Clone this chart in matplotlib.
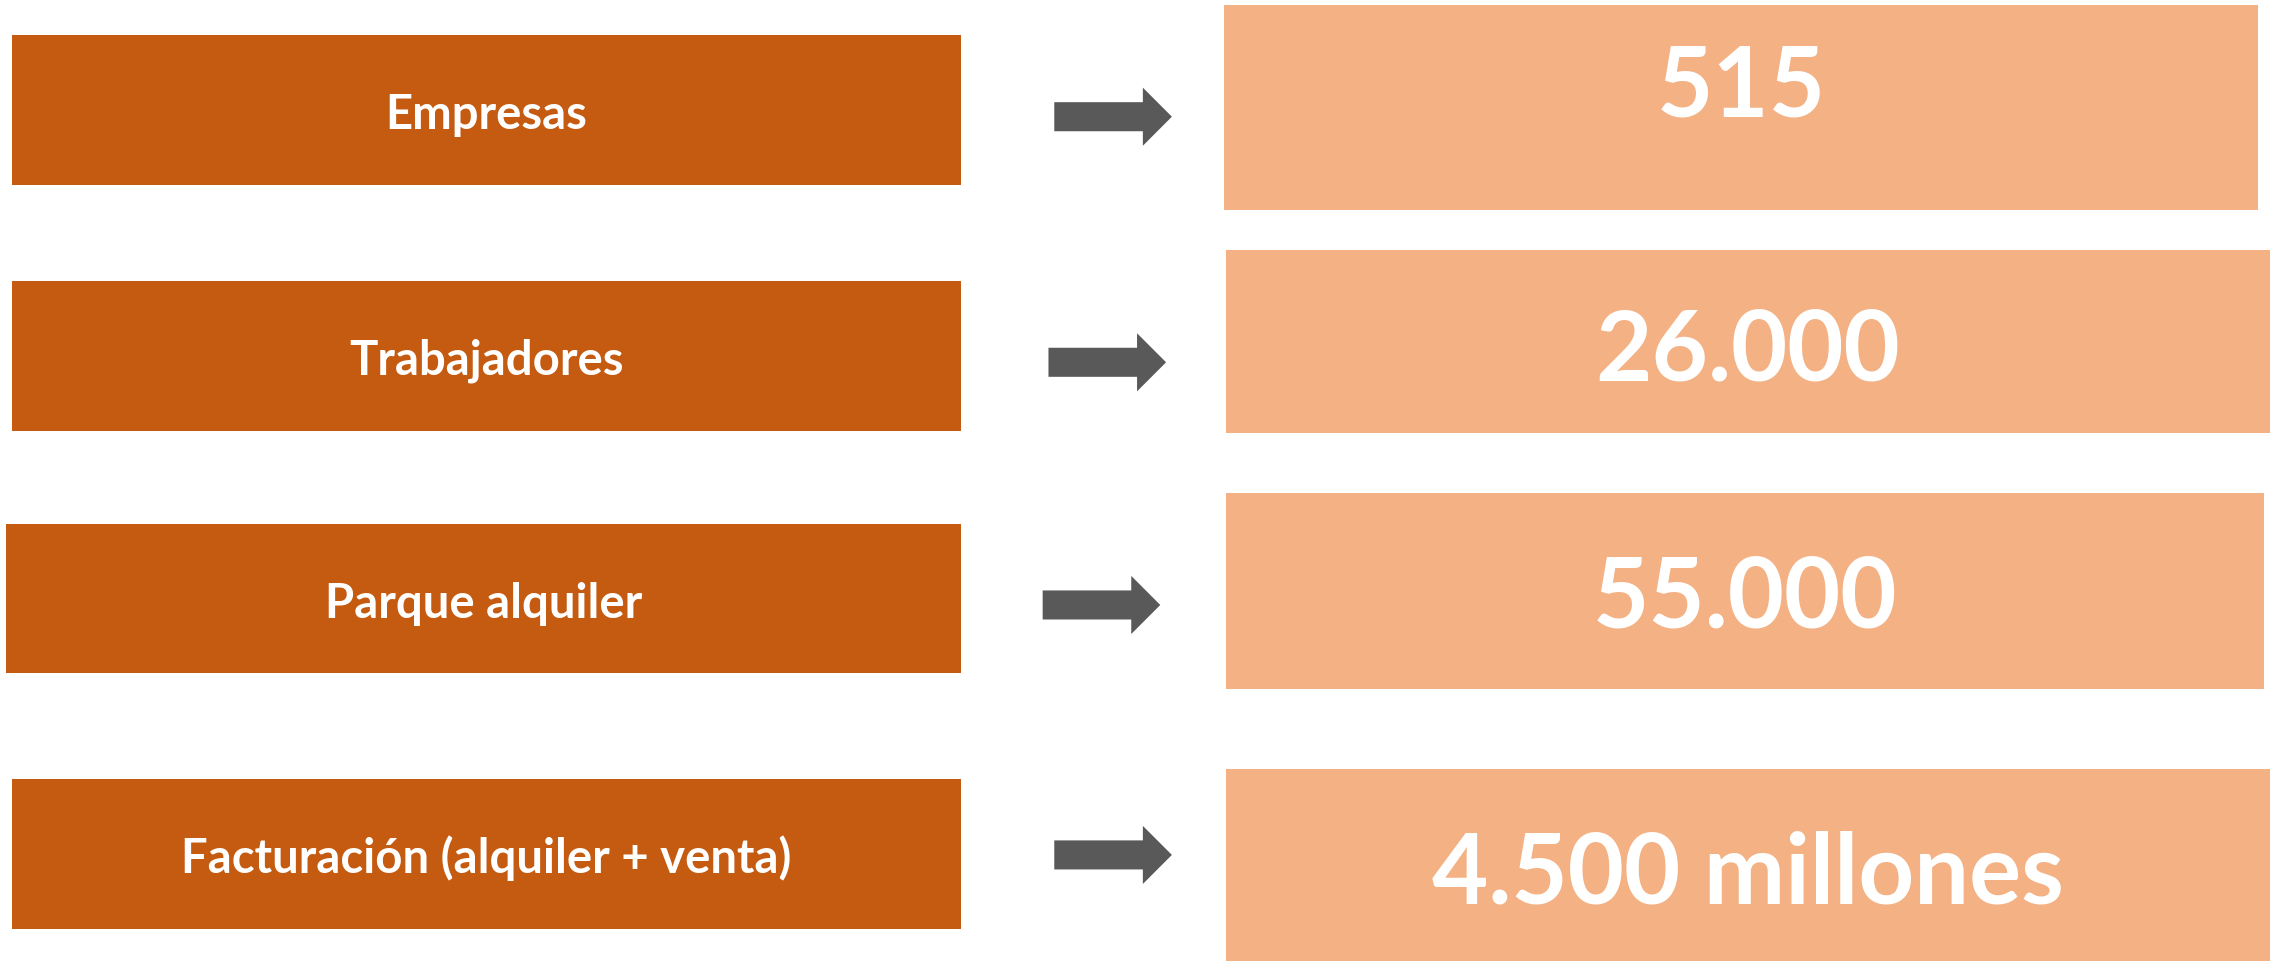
import matplotlib.pyplot as plt
from matplotlib.patches import Rectangle, Polygon

plt.rcParams['font.family'] = ['Lato', 'DejaVu Sans']

labels = ['Empresas', 'Trabajadores', 'Parque alquiler', 'Facturación (alquiler + venta)']
values = ['515', '26.000', '55.000', '4.500 millones']

# layout (in reference pixel units, 1568 x 662 canvas)
left_boxes = [(8, 25, 654, 103), (8, 194, 654, 103), (4, 361, 658, 103), (8, 537, 654, 103)]
right_boxes = [(843, 4, 712, 141), (844, 173, 719, 126), (844, 340, 715, 135), (844, 530, 719, 132)]
right_base = [80, 262, 432, 622]
arrows = [(726, 81), (722, 250), (718, 417), (726, 589)]

dark = '#C55A11'
light = '#F4B183'
grey = '#595959'

fig = plt.figure(figsize=(22.77, 9.62), dpi=100)
ax = fig.add_axes([0, 0, 1, 1])
ax.set_xlim(0, 1568)
ax.set_ylim(662, 0)
ax.axis('off')

for (x, y, w, h), lab in zip(left_boxes, labels):
    ax.add_patch(Rectangle((x, y), w, h, facecolor=dark, edgecolor='none'))
    ax.text(x + w / 2, y + h / 2 + 12.5, lab, color='white', fontsize=34, fontweight='bold',
            ha='center', va='baseline')

for (x, y, w, h), val, yb in zip(right_boxes, values, right_base):
    ax.add_patch(Rectangle((x, y), w, h, facecolor=light, edgecolor='none'))
    ax.text(x + w / 2, yb, val, color='white', fontsize=70, fontweight='bold',
            ha='center', va='baseline')

for x0, yc in arrows:
    shaft, head, sh, hh = 61, 20, 10, 20
    pts = [(x0, yc - sh), (x0 + shaft, yc - sh), (x0 + shaft, yc - hh),
           (x0 + shaft + head, yc), (x0 + shaft, yc + hh), (x0 + shaft, yc + sh),
           (x0, yc + sh)]
    ax.add_patch(Polygon(pts, closed=True, facecolor=grey, edgecolor='none'))

fig.savefig('out.png', dpi=100, facecolor='white')
